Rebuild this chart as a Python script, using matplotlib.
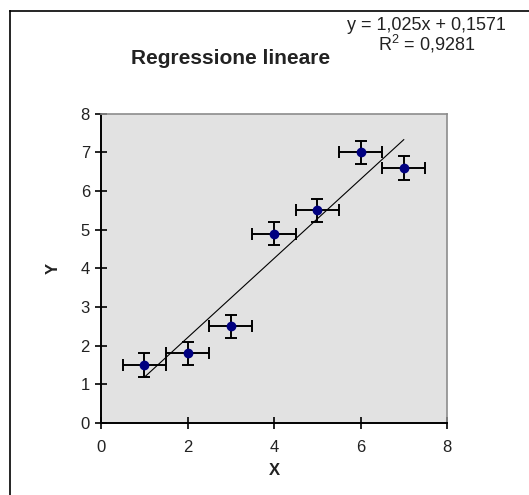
import matplotlib
matplotlib.use('Agg')
import matplotlib.pyplot as plt
import numpy as np
from matplotlib.lines import Line2D

plt.rcParams['font.family'] = ['Liberation Sans', 'DejaVu Sans']
plt.rcParams['mathtext.fontset'] = 'custom'
plt.rcParams['mathtext.rm'] = 'Liberation Sans'

x = np.array([1, 2, 3, 4, 5, 6, 7])
y = np.array([1.5, 1.8, 2.5, 4.9, 5.5, 7.0, 6.6])
x_err = 0.5
y_err = 0.3

slope, intercept = np.polyfit(x, y, 1)
r2 = np.corrcoef(x, y)[0, 1] ** 2

fig = plt.figure(figsize=(5.29, 4.95), dpi=100)
ax = fig.add_axes([0.191, 0.1455, 0.654, 0.6245])
ax.set_facecolor('#e2e2e2')

# outer chart frame (only left/top visible in the crop)
fig.add_artist(Line2D([10 / 529, 10 / 529], [0, 1 - 11 / 495], transform=fig.transFigure, color='black', lw=1.2))
fig.add_artist(Line2D([10 / 529, 1], [1 - 11 / 495, 1 - 11 / 495], transform=fig.transFigure, color='black', lw=1.2))

xs = np.array([x.min(), x.max()])
ax.plot(xs, slope * xs + intercept, color='black', lw=0.8, zorder=2)

ax.errorbar(x, y, xerr=x_err, yerr=y_err, fmt='o', color='#000080', ms=6,
            ecolor='black', elinewidth=1.4, capsize=4.5, capthick=1.4, zorder=3)

ax.set_xlim(0, 8)
ax.set_ylim(0, 8)
ax.set_xticks([0, 2, 4, 6, 8])
ax.set_yticks(range(0, 9))
ax.tick_params(direction='inout', length=8, width=1.2, labelsize=12, colors='black',
               labelcolor='#222222', pad=4)
ax.tick_params(axis='x', pad=8)
for s in ['top', 'right']:
    ax.spines[s].set_color('#8c8c8c')
    ax.spines[s].set_linewidth(1.2)
for s in ['left', 'bottom']:
    ax.spines[s].set_linewidth(1.4)

ax.set_xlabel('X', fontsize=12, fontweight='bold', labelpad=6, color='#222222')
ax.set_ylabel('Y', fontsize=12, fontweight='bold', labelpad=14, color='#222222')

fig.text(0.435, 1 - 58 / 495, 'Regressione lineare', fontsize=15, fontweight='bold',
         ha='center', va='center', color='#222222')
eq = 'y = {:.3f}x + {:.4f}'.format(slope, intercept).replace('.', ',')
fig.text(0.806, 1 - 25 / 495, eq, fontsize=13, ha='center', va='center', color='#222222')
fig.text(0.806, 1 - 44 / 495, 'R$^2$ = {:.4f}'.format(r2).replace('.', ','), fontsize=13,
         ha='center', va='center', color='#222222')

plt.savefig('out.png', dpi=100)
